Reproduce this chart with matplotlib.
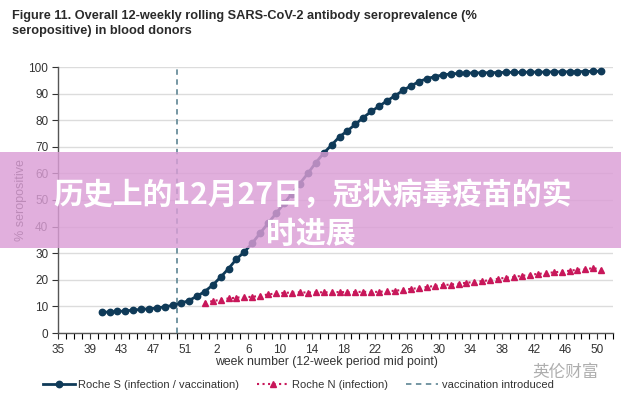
import numpy as np
import matplotlib.pyplot as plt
from matplotlib.patches import Rectangle

# week axis: 35..53 of 2020, then 1..52 of 2021, labelled every 4 weeks
tick_labels = ['35', '39', '43', '47', '51', '2', '6', '10', '14', '18',
               '22', '26', '30', '34', '38', '42', '46', '50']

roche_s = [7.8, 7.9, 8.1, 8.3, 8.6, 8.9, 9.1, 9.4, 9.9, 10.4,
           11.2, 12.2, 13.8, 15.6, 18.0, 21.0, 24.2, 27.8, 30.5, 33.8,
           37.6, 41.3, 45.0, 48.7, 52.4, 56.2, 60.0, 64.0, 67.6, 70.7,
           73.8, 76.0, 78.5, 81.0, 83.3, 85.3, 87.3, 89.2, 91.2, 92.9,
           94.5, 95.6, 96.4, 97.0, 97.4, 97.6, 97.7, 97.8, 97.8, 97.9,
           97.9, 98.0, 98.0, 98.0, 98.1, 98.1, 98.1, 98.2, 98.2, 98.2,
           98.3, 98.3, 98.4, 98.4]
roche_n = [11.4, 12.0, 12.5, 13.0, 13.3, 13.5, 13.6, 14.0, 14.5, 14.9,
           15.1, 15.2, 15.3, 15.2, 15.3, 15.3, 15.3, 15.4, 15.3, 15.4,
           15.5, 15.4, 15.5, 15.7, 15.9, 16.2, 16.6, 16.9, 17.3, 17.7,
           18.0, 18.2, 18.5, 18.9, 19.2, 19.5, 19.9, 20.4, 20.8, 21.1,
           21.5, 21.9, 22.2, 22.5, 22.8, 23.1, 23.4, 23.8, 24.0, 24.4,
           23.8]
s_start = 5   # first Roche S week (index from week 35)
n_start = 18
vacc_week = 15

xs = np.arange(len(roche_s)) + s_start + 0.5
xn = np.arange(len(roche_n)) + n_start + 0.5

plt.rcParams['font.family'] = ['Liberation Sans', 'DejaVu Sans']
cjk = ['Noto Sans CJK SC', 'DejaVu Sans']

fig = plt.figure(figsize=(6.21, 4.0), dpi=100)
ax = fig.add_axes([0.0934, 0.1675, 0.894, 0.665])

navy = '#0f3a58'
crimson = '#c8175a'

ax.plot(xs, roche_s, '-o', color=navy, lw=2, ms=4.6,
        label='Roche S (infection / vaccination)', zorder=4)
ax.plot(xn, roche_n, ':^', color=crimson, lw=1.5, ms=4.6,
        label='Roche N (infection)', zorder=4)
ax.axvline(vacc_week, color='#6a8f9c', ls=(0, (3, 2.5)), lw=1.3,
           label='vaccination introduced', zorder=3)

ax.set_xlim(0, 70)
ax.set_ylim(0, 100)
ax.set_xticks(np.arange(0, 70, 4))
ax.set_xticklabels(tick_labels)
ax.set_xticks(np.arange(0, 71, 1), minor=True)
ax.set_yticks(np.arange(0, 101, 10))
ax.tick_params(axis='both', labelsize=8.5, colors='#333333', direction='out')
ax.tick_params(axis='x', which='both', length=4, width=0.8, pad=4)
ax.tick_params(axis='y', length=4, width=0.8, pad=3)
ax.grid(axis='y', color='#dcdcdc', lw=1)
ax.set_axisbelow(True)
for side in ['top', 'right']:
    ax.spines[side].set_visible(False)
for side in ['left', 'bottom']:
    ax.spines[side].set_color('#555555')
    ax.spines[side].set_linewidth(1)

ax.set_xlabel('week number (12-week period mid point)', fontsize=8.8,
              color='#333333')
ax.xaxis.set_label_coords(0.483, -0.085)
ax.set_ylabel('% seropositive', fontsize=9, color='#333333', labelpad=1)

fig.text(0.019, 0.975, 'Figure 11. Overall 12-weekly rolling SARS-CoV-2 antibody '
         'seroprevalence (%\nseropositive) in blood donors', fontsize=9.2,
         fontweight='bold', color='#2a2a2a', va='top', linespacing=1.35)

leg = fig.legend(loc='center', bbox_to_anchor=(0.48, 0.037), ncol=3,
                 frameon=False, fontsize=8, handlelength=2.9,
                 columnspacing=1.6, handletextpad=0.3)
for t in leg.get_texts():
    t.set_color('#333333')

fig.text(0.965, 0.068, '英伦财富', fontsize=12, color='#9a9a9a', ha='right',
         va='center', family=cjk, alpha=0.8)

# pink overlay banner
band = Rectangle((0, 1 - 248 / 400), 1, (248 - 152) / 400,
                 transform=fig.transFigure, facecolor='#db9ed6', alpha=0.82,
                 edgecolor='none', zorder=10)
fig.patches.append(band)
fig.text(0.503, 1 - 195 / 400, '历史上的12月27日，冠状病毒疫苗的实', fontsize=21.5,
         fontweight='bold', color='white', ha='center', va='center', zorder=11,
         family=cjk)
fig.text(0.5, 1 - 234 / 400, '时进展', fontsize=21.5, fontweight='bold',
         color='white', ha='center', va='center', zorder=11, family=cjk)

fig.savefig('out.png', dpi=100)
